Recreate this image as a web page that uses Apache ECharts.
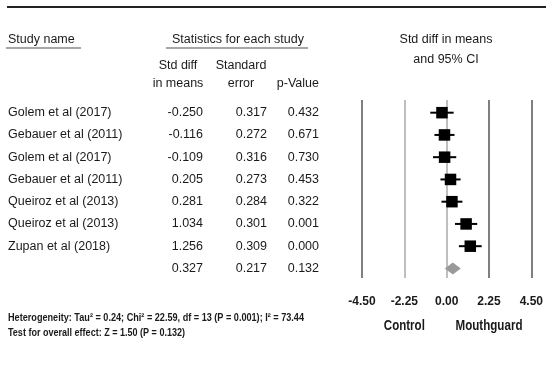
<!DOCTYPE html>
<html>
<head>
<meta charset="utf-8">
<script src="https://cdn.jsdelivr.net/npm/echarts@6/dist/echarts.min.js"></script>
<style>
  html, body { margin: 0; padding: 0; background: #fff; }
  #chart { width: 546px; height: 367px; }
</style>
</head>
<body>
<div id="chart"></div>
<script>
// Forest plot: mouthguard vs control, standardised mean differences
const studyNames = ['Golem et al (2017)', 'Gebauer et al (2011)', 'Golem et al (2017)', 'Gebauer et al (2011)',
                    'Queiroz et al (2013)', 'Queiroz et al (2013)', 'Zupan et al (2018)', ''];
const stdDiff   = [-0.250, -0.116, -0.109, 0.205, 0.281, 1.034, 1.256, 0.327];
const stdError  = [0.317, 0.272, 0.316, 0.273, 0.284, 0.301, 0.309, 0.217];
const pValues   = ['0.432', '0.671', '0.730', '0.453', '0.322', '0.001', '0.000', '0.132'];
const ciLower   = [-0.871, -0.649, -0.728, -0.330, -0.276, 0.444, 0.650, -0.098];
const ciUpper   = [0.371, 0.417, 0.510, 0.740, 0.838, 1.624, 1.862, 0.752];
const axisTicks = [-4.50, -2.25, 0.00, 2.25, 4.50];
const sideLabels = [[-2.25, 'Control'], [2.25, 'Mouthguard']];
const footLines = ['Heterogeneity: Tau² = 0.24; Chi² = 22.59, df = 13 (P = 0.001); I² = 73.44',
                   'Test for overall effect: Z = 1.50 (P = 0.132)'];
const summaryRow = 7;

const FONT = '"Liberation Sans", Arial, sans-serif';
const TXT = '#1a1a1a';

// horizontal squeeze so a wide face occupies the width of a condensed one
const measureCtx = document.createElement('canvas').getContext('2d');
function squeeze(text, weight, size, width) {
  measureCtx.font = weight + ' ' + size + 'px ' + FONT;
  return width / measureCtx.measureText(text).width;
}

const forestData = stdDiff.map((v, i) => [v, i, ciLower[i], ciUpper[i]]);
const tableData = studyNames.map((n, i) => [0, i]);

function renderForest(params, api) {
  const est = api.value(0), row = api.value(1);
  const c = api.coord([est, row]);
  const pl = api.coord([api.value(2), row]);
  const ph = api.coord([api.value(3), row]);
  if (row === summaryRow) {
    const h = 6;
    return {
      type: 'polygon',
      shape: { points: [[pl[0], c[1]], [c[0], c[1] - h], [ph[0], c[1]], [c[0], c[1] + h]] },
      style: { fill: '#9a9a9a' }
    };
  }
  const s = 11.5;
  return {
    type: 'group',
    children: [
      { type: 'line', shape: { x1: pl[0], y1: c[1], x2: ph[0], y2: c[1] },
        style: { stroke: '#000', lineWidth: 2 } },
      { type: 'rect', shape: { x: c[0] - s / 2, y: c[1] - s / 2, width: s, height: s },
        style: { fill: '#000' } }
    ]
  };
}

function renderTable(params, api) {
  const i = api.value(1);
  const y = api.coord([0, i])[1];
  const base = { fontFamily: FONT, fontSize: 12.5, fill: TXT, verticalAlign: 'middle' };
  return {
    type: 'group',
    children: [
      { type: 'text', x: 8, y: y, style: Object.assign({ text: studyNames[i], align: 'left' }, base) },
      { type: 'text', x: 203, y: y, style: Object.assign({ text: stdDiff[i].toFixed(3), align: 'right' }, base) },
      { type: 'text', x: 267, y: y, style: Object.assign({ text: stdError[i].toFixed(3), align: 'right' }, base) },
      { type: 'text', x: 319, y: y, style: Object.assign({ text: pValues[i], align: 'right' }, base) }
    ]
  };
}

function headText(text, x, y, align) {
  return { type: 'text', x: x, y: y,
    style: { text: text, align: align || 'center', verticalAlign: 'middle',
             fontFamily: FONT, fontSize: 12.5, fill: TXT } };
}

function footText(text, y, width) {
  const size = 11.5;
  return { type: 'text', x: 8, y: y, scaleX: squeeze(text, 'bold', size, width),
    style: { text: text, align: 'left', verticalAlign: 'middle',
             fontFamily: FONT, fontSize: size, fontWeight: 'bold', fill: TXT } };
}

const chart = echarts.init(document.getElementById('chart'), null, { renderer: 'canvas' });
chart.setOption({
  animation: false,
  backgroundColor: '#fff',
  grid: { left: 362, right: 13, top: 100, height: 178 },
  xAxis: {
    type: 'value', min: axisTicks[0], max: axisTicks[axisTicks.length - 1], interval: 2.25,
    axisLine: { show: false }, axisTick: { show: false },
    axisLabel: { margin: 18, fontFamily: FONT, fontSize: 12, fontWeight: 'bold', color: TXT,
                 formatter: v => v.toFixed(2) },
    splitLine: { show: true, lineStyle: { color: ['#555', '#aaa', '#aaa', '#555', '#555'], width: 1.5 } }
  },
  yAxis: { type: 'value', min: -0.57, max: 7.43, inverse: true, show: false },
  graphic: [
    { type: 'line', shape: { x1: 7, y1: 7, x2: 546, y2: 7 }, style: { stroke: '#222', lineWidth: 2 } },
    headText('Study name', 8, 40, 'left'),
    { type: 'line', shape: { x1: 6, y1: 48, x2: 81, y2: 48 }, style: { stroke: '#888', lineWidth: 1.5 } },
    headText('Statistics for each study', 238, 40),
    { type: 'line', shape: { x1: 166, y1: 48, x2: 308, y2: 48 }, style: { stroke: '#888', lineWidth: 1.5 } },
    headText('Std diff in means', 446, 40),
    headText('and 95% CI', 446, 60),
    headText('Std diff', 178, 66),
    headText('in means', 178, 84),
    headText('Standard', 241, 66),
    headText('error', 241, 84),
    headText('p-Value', 319, 84, 'right'),
    footText(footLines[0], 318, 296),
    footText(footLines[1], 333, 177)
  ],
  series: [
    { type: 'custom', name: 'table', coordinateSystem: 'cartesian2d', data: tableData,
      renderItem: renderTable, clip: false, silent: true },
    { type: 'custom', name: 'Std diff in means', coordinateSystem: 'cartesian2d', data: forestData,
      encode: { x: [0, 2, 3], y: 1 }, renderItem: renderForest, clip: false, silent: true }
  ]
});

// "Control" / "Mouthguard" sit under the ±2.25 ticks of the effect axis
const sideSize = 14.5;
const sideWidths = { 'Control': 41, 'Mouthguard': 67 };
chart.setOption({
  graphic: sideLabels.map(([v, label]) => ({
    id: 'side-' + label, type: 'text',
    x: chart.convertToPixel({ xAxisIndex: 0 }, v), y: 326,
    scaleX: squeeze(label, 'bold', sideSize, sideWidths[label]),
    style: { text: label, align: 'center', verticalAlign: 'middle',
             fontFamily: FONT, fontSize: sideSize, fontWeight: 'bold', fill: TXT }
  }))
});
</script>
</body>
</html>
